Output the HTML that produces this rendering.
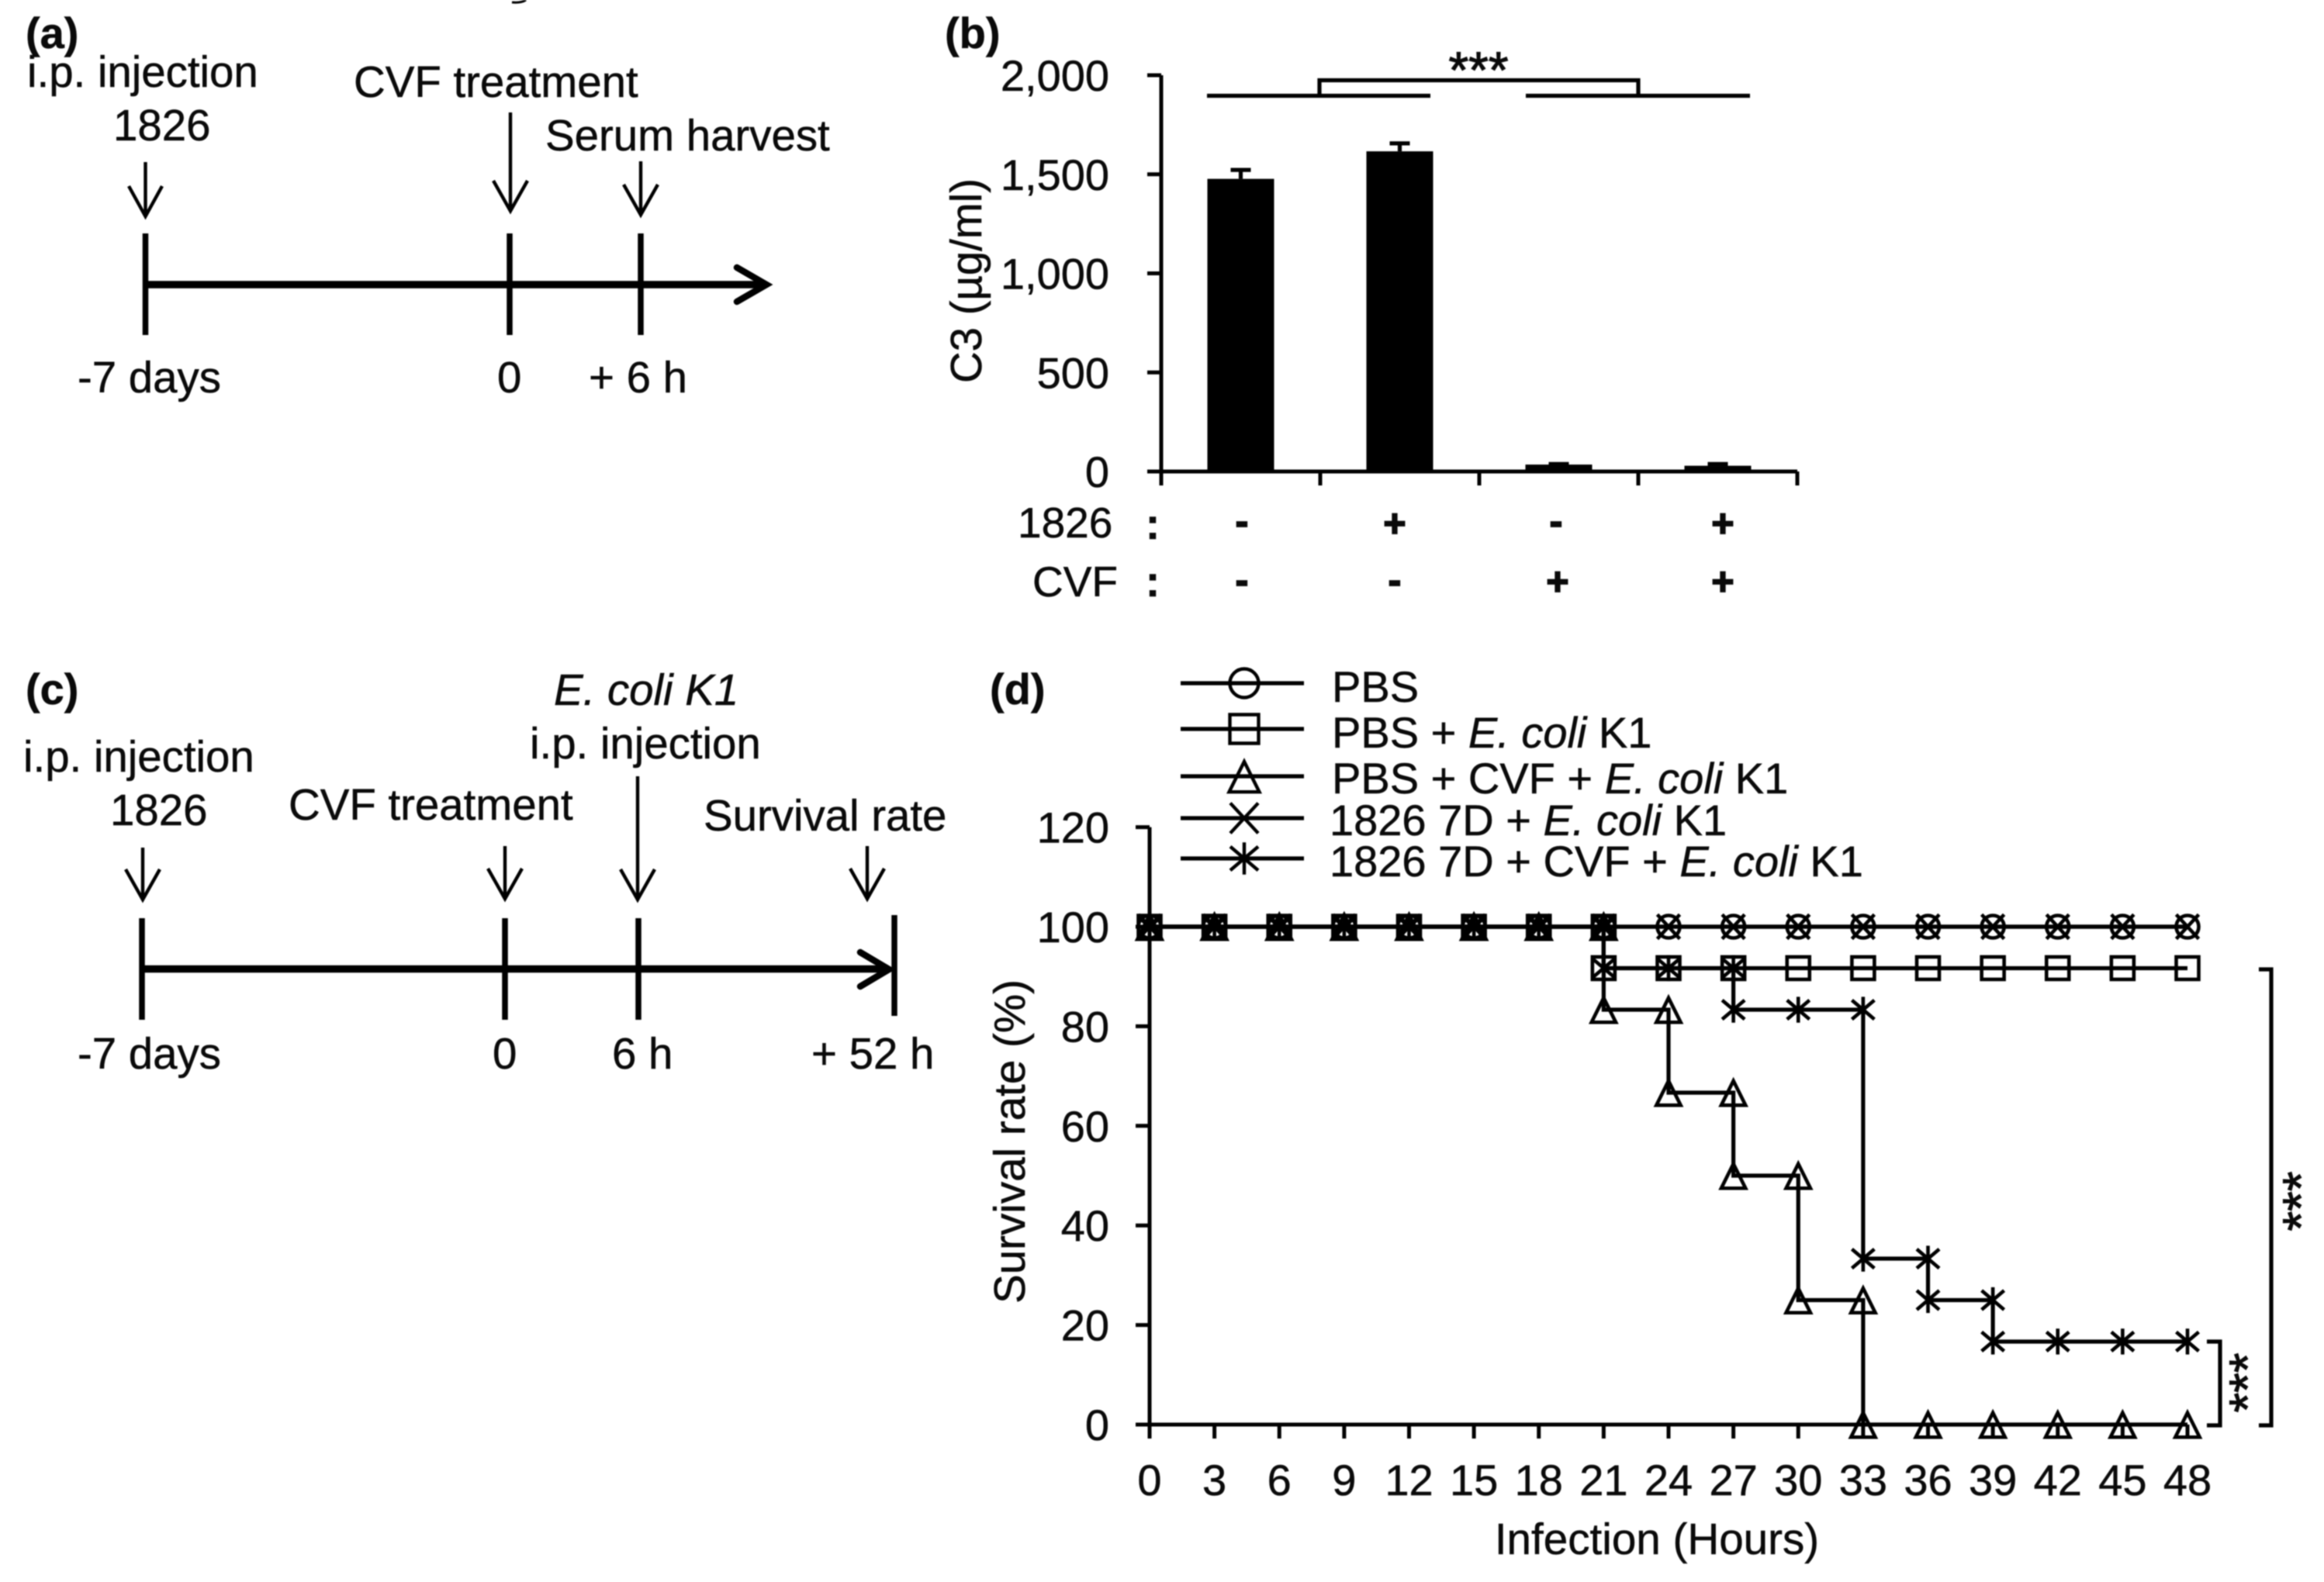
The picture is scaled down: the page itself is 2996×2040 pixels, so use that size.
<!DOCTYPE html>
<html lang="en">
<head>
<meta charset="utf-8">
<title>C3 depletion and survival figure</title>
<style>
html,body{margin:0;padding:0;background:#fff;width:2996px;height:2040px;overflow:hidden}
svg{display:block;filter:blur(.7px)}
text{font-family:"Liberation Sans",Arial,sans-serif;fill:#0a0a0a;stroke:#0a0a0a;stroke-width:.5px;font-size:56.4px}
.b{font-weight:700}
.i{font-style:italic}
.ln{stroke:#000;fill:none;stroke-width:5.2}
.ar{stroke:#000;fill:none;stroke-width:4.4}
.tk{stroke:#000;fill:none;stroke-width:7.5}
.hz{stroke:#000;fill:none;stroke-width:9.5}
.hd{stroke:#000;fill:none;stroke-width:8.5;stroke-linecap:round;stroke-linejoin:miter}
.ax{stroke:#000;fill:none;stroke-width:5}
</style>
</head>
<body>
<svg id="fig" xmlns="http://www.w3.org/2000/svg" width="2996" height="2040" viewBox="0 0 2996 2040">
<rect width="2996" height="2040" fill="#fff"/>
<path d="M660 3 Q672 4 678 0" stroke="#000" stroke-width="3" fill="none"/>

<!-- Panel a -->
<g>
<text class="b" x="33" y="62" style="font-size:56px">(a)</text>
<text x="35" y="112">i.p. injection</text>
<text x="146" y="181">1826</text>
<text x="456" y="125">CVF treatment</text>
<text x="703" y="194">Serum harvest</text>
<path class="ar" d="M187.5 209V279M166 240L187.5 279L209 240"/>
<path class="ar" d="M658 145V272M636 233L658 272L680 233"/>
<path class="ar" d="M826 208V277M804 238L826 277L848 238"/>
<path class="tk" d="M187.5 301V432M657 301V432M826 301V432"/>
<path class="hz" d="M187 367H984"/>
<path class="hd" d="M950 345L988 367L950 389"/>
<text x="100" y="506">-7 days</text>
<text x="641" y="506">0</text>
<text x="759" y="506">+ 6 h</text>
</g>

<!-- Panel b -->
<g id="panelB">
<text class="b" x="1218" y="62" style="font-size:56px">(b)</text>
<text x="0" y="0" transform="translate(1265,494) rotate(-90)" textLength="264" lengthAdjust="spacingAndGlyphs">C3  (µg/ml)</text>
<path class="ln" d="M1556 123.5H1844M1967 123.5H2256M1701 123.5V103.5H2112V123.5"/>
<text x="1906" y="113" text-anchor="middle" style="font-size:66px;stroke-width:1.2px">***</text>
<text x="1312" y="693" style="font-size:55px">1826</text>
<text x="1331" y="769" style="font-size:55px">CVF</text>
<text class="b" x="1486" y="695" text-anchor="middle">:</text>
<text class="b" x="1486" y="769" text-anchor="middle">:</text>
</g>

<!-- Panel c -->
<g>
<text class="b" x="33" y="908" style="font-size:56px">(c)</text>
<text class="i" x="714" y="909">E. coli K1</text>
<text x="683" y="978">i.p. injection</text>
<text x="30" y="995">i.p. injection</text>
<text x="142" y="1064">1826</text>
<text x="372" y="1057">CVF treatment</text>
<text x="907" y="1071">Survival rate</text>
<path class="ar" d="M184 1093V1160M162 1121L184 1160L206 1121"/>
<path class="ar" d="M651 1091V1159M629 1120L651 1159L673 1120"/>
<path class="ar" d="M822 1001V1160M800 1121L822 1160L844 1121"/>
<path class="ar" d="M1118 1091V1159M1096 1120L1118 1159L1140 1120"/>
<path class="tk" d="M183 1184V1315M651 1184V1315M823 1184V1315M1153 1180V1310"/>
<path class="hz" d="M183 1249.5H1142"/>
<path class="hd" d="M1109 1228L1146 1250L1109 1272"/>
<text x="100" y="1378">-7 days</text>
<text x="635" y="1378">0</text>
<text x="789" y="1378">6 h</text>
<text x="1046" y="1378">+ 52 h</text>
</g>

<!-- Panel d -->
<g id="panelD">
<text class="b" x="1276" y="908" style="font-size:56px">(d)</text>
<text x="0" y="0" transform="translate(1321,1681) rotate(-90)" textLength="418" lengthAdjust="spacingAndGlyphs">Survival rate (%)</text>
<text x="2136" y="2004" text-anchor="middle" style="font-size:56.6px">Infection (Hours)</text>
<g id="legend">
<text x="1717" y="905" style="font-size:56px">PBS</text>
<text x="1717" y="964" style="font-size:56px">PBS + <tspan class="i">E. coli</tspan> K1</text>
<text x="1717" y="1023" style="font-size:56px">PBS + CVF + <tspan class="i">E. coli</tspan> K1</text>
<text x="1714" y="1077" style="font-size:56px">1826 7D + <tspan class="i">E. coli</tspan> K1</text>
<text x="1714" y="1130" style="font-size:56px">1826 7D + CVF + <tspan class="i">E. coli</tspan> K1</text>
</g>
<path class="ln" d="M2912 1250H2928V1838H2912"/>
<path class="ln" d="M2845 1730H2862V1838H2845"/>
<text x="0" y="0" transform="translate(2989,1549) rotate(-90)" text-anchor="middle" style="font-size:66px;stroke-width:1.2px">***</text>
<text x="0" y="0" transform="translate(2920,1783) rotate(-90)" text-anchor="middle" style="font-size:66px;stroke-width:1.2px">***</text>
</g>
</svg>

<script>
// Panel b data
const barGroups = ['ctrl', '1826', 'cvf', '1826-cvf'];
const barValues = [1477, 1616, 35, 29];
const barErrors = [45, 40, 3, 9];
const barYTicks = [0, 500, 1000, 1500, 2000];
const barYTickLabels = ['0', '500', '1,000', '1,500', '2,000'];
const row1826 = ['-', '+', '-', '+'];
const rowCVF = ['-', '-', '+', '+'];

// Panel d data
const survXTicks = [0, 3, 6, 9, 12, 15, 18, 21, 24, 27, 30, 33, 36, 39, 42, 45, 48];
const survYTicks = [0, 20, 40, 60, 80, 100, 120];
const pbsHours = [0, 3, 6, 9, 12, 15, 18, 21, 24, 27, 30, 33, 36, 39, 42, 45, 48];
const pbsValues = [100, 100, 100, 100, 100, 100, 100, 100, 100, 100, 100, 100, 100, 100, 100, 100, 100];
const pbsEcoliHours = [0, 3, 6, 9, 12, 15, 18, 21, 21, 24, 27, 30, 33, 36, 39, 42, 45, 48];
const pbsEcoliValues = [100, 100, 100, 100, 100, 100, 100, 100, 91.67, 91.67, 91.67, 91.67, 91.67, 91.67, 91.67, 91.67, 91.67, 91.67];
const pbsCvfHours = [0, 3, 6, 9, 12, 15, 18, 21, 21, 24, 24, 27, 27, 30, 30, 33, 33, 36, 39, 42, 45, 48];
const pbsCvfValues = [100, 100, 100, 100, 100, 100, 100, 100, 83.33, 83.33, 66.67, 66.67, 50, 50, 25, 25, 0, 0, 0, 0, 0, 0];
const d7Hours = [0, 3, 6, 9, 12, 15, 18, 21, 24, 27, 30, 33, 36, 39, 42, 45, 48];
const d7Values = [100, 100, 100, 100, 100, 100, 100, 100, 100, 100, 100, 100, 100, 100, 100, 100, 100];
const d7CvfHours = [0, 3, 6, 9, 12, 15, 18, 21, 21, 24, 27, 27, 30, 33, 33, 36, 36, 39, 39, 42, 45, 48];
const d7CvfValues = [100, 100, 100, 100, 100, 100, 100, 100, 91.67, 91.67, 91.67, 83.33, 83.33, 83.33, 33.33, 33.33, 25, 25, 16.67, 16.67, 16.67, 16.67];

const NS = 'http://www.w3.org/2000/svg';
function mk(parent, tag, attrs, txt) {
  const el = document.createElementNS(NS, tag);
  for (const k in attrs) el.setAttribute(k, attrs[k]);
  if (txt !== undefined) el.textContent = txt;
  parent.appendChild(el);
  return el;
}

/* ---------- Panel b ---------- */
const pB = document.getElementById('panelB');
const bY = v => 608 - v * (511 / 2000);
const bX0 = 1497, bStep = 205;
const bCenter = i => bX0 + bStep * (i + 0.5);

barValues.forEach((v, i) => {
  const r = mk(pB, 'rect', {x: bCenter(i) - 43, y: bY(v), width: 86, height: 608 - bY(v), fill: '#000'});
  
  
  const e = mk(pB, 'path', {class: 'ln', d: `M${bCenter(i)} ${bY(v)}V${bY(v + barErrors[i])}M${bCenter(i) - 13} ${bY(v + barErrors[i])}H${bCenter(i) + 13}`});
  
  
});

const bYAxis = mk(pB, 'path', {class: 'ax', d: `M${bX0} ${bY(2000)}V626`});


const bXAxis = mk(pB, 'path', {class: 'ax', d: `M${bX0} 608H${bX0 + bStep * barGroups.length}`});



barYTicks.forEach((t, i) => {
  const tk = mk(pB, 'path', {class: 'ax', d: `M1479 ${bY(t)}H${bX0}`});
  
  
  const lb = mk(pB, 'text', {x: 1430, y: bY(t) + 20, 'text-anchor': 'end', style: 'font-size:56px'}, barYTickLabels[i]);
  
  
});
for (let i = 1; i <= barGroups.length; i++) {
  const tk = mk(pB, 'path', {class: 'ax', d: `M${bX0 + bStep * i} 608V626`});
  
  
}
function signMark(ch, x, y) {
  const t = mk(pB, 'text', {class: 'b', x: x, y: ch === '+' ? y + 18 : y + 15, 'text-anchor': 'middle', style: 'font-size:50px;stroke-width:1.8px'}, ch);
  
  
}
const row1Xs = i => bCenter(i) + (i === 0 ? 1.5 : i === 1 ? -6.5 : i === 2 ? -3.5 : 6.5);
const row2Xs = i => bCenter(i) + (i === 0 ? 1.5 : i === 1 ? -6.5 : i === 2 ? -1.5 : 6.5);
row1826.forEach((c, i) => signMark(c, row1Xs(i), c === '+' ? 674 : 674));
rowCVF.forEach((c, i) => signMark(c, row2Xs(i), c === '+' ? 749 : 750));

/* ---------- Panel d ---------- */
const pD = document.getElementById('panelD');
const dX = h => 1482 + h * (1338 / 48);
const dY = v => 1837 - v * 6.42;

const dYAxis = mk(pD, 'path', {class: 'ax', d: `M${dX(0)} ${dY(120)}V1855`});


const dXAxis = mk(pD, 'path', {class: 'ax', d: `M${dX(0)} ${dY(0)}H${dX(48)}`});


survYTicks.forEach(t => {
  const tk = mk(pD, 'path', {class: 'ax', d: `M1464 ${dY(t)}H${dX(0)}`});
  
  
  const lb = mk(pD, 'text', {x: 1430, y: dY(t) + 20, 'text-anchor': 'end', style: 'font-size:56px'}, String(t));
  
  
});
survXTicks.forEach(t => {
  const tk = mk(pD, 'path', {class: 'ax', d: `M${dX(t)} ${dY(0)}V1855`});
  
  
  const lb = mk(pD, 'text', {x: dX(t), y: 1928, 'text-anchor': 'middle', style: 'font-size:56px'}, String(t));
  
  
});

function markerPath(kind, x, y, s) {
  if (kind === 'square') return `M${x - s} ${y - s}H${x + s}V${y + s}H${x - s}Z`;
  if (kind === 'triangle') return `M${x} ${y - s * 1.05}L${x + s * 1.08} ${y + s * 1.12}H${x - s * 1.08}Z`;
  if (kind === 'x') return `M${x - s} ${y - s * 1.08}L${x + s} ${y + s * 1.08}M${x + s} ${y - s * 1.08}L${x - s} ${y + s * 1.08}`;
  if (kind === 'star') return `M${x - s} ${y - s * 0.85}L${x + s} ${y + s * 0.85}M${x + s} ${y - s * 0.85}L${x - s} ${y + s * 0.85}M${x} ${y - s * 1.15}V${y + s * 1.15}`;
  return `M${x - s} ${y}A${s} ${s} 0 1 0 ${x + s} ${y}A${s} ${s} 0 1 0 ${x - s} ${y}Z`;
}

function drawSeries(name, kind, hours, values) {
  const g = mk(pD, 'g', {});
  
  
  const line = mk(g, 'polyline', {class: 'ln', points: hours.map((h, i) => dX(h) + ',' + dY(values[i])).join(' ')});
  
  
  hours.forEach((h, i) => {
    const m = mk(g, 'path', {d: markerPath(kind, dX(h), dY(values[i]), 14.5), fill: 'none', stroke: '#000', 'stroke-width': 4.6});
    
    
  });
}
drawSeries('pbs', 'circle', pbsHours, pbsValues);
drawSeries('pbs-ecoli', 'square', pbsEcoliHours, pbsEcoliValues);
drawSeries('pbs-cvf-ecoli', 'triangle', pbsCvfHours, pbsCvfValues);
drawSeries('1826-7d-ecoli', 'x', d7Hours, d7Values);
drawSeries('1826-7d-cvf-ecoli', 'star', d7CvfHours, d7CvfValues);

function legendKey(name, kind, y) {
  const lg = document.getElementById('legend');
  const ln = mk(lg, 'path', {class: 'ln', d: `M1522 ${y}H1681`});
  
  
  const s = kind === 'circle' || kind === 'square' ? 18.5 : 18;
  const m = mk(lg, 'path', {d: markerPath(kind, 1604, y, s), fill: 'none', stroke: '#000', 'stroke-width': 4.4});
  
  
}
legendKey('pbs', 'circle', 881);
legendKey('pbs-ecoli', 'square', 940);
legendKey('pbs-cvf-ecoli', 'triangle', 1001);
legendKey('1826-ecoli', 'x', 1055);
legendKey('1826-cvf-ecoli', 'star', 1107);
</script>
</body>
</html>
